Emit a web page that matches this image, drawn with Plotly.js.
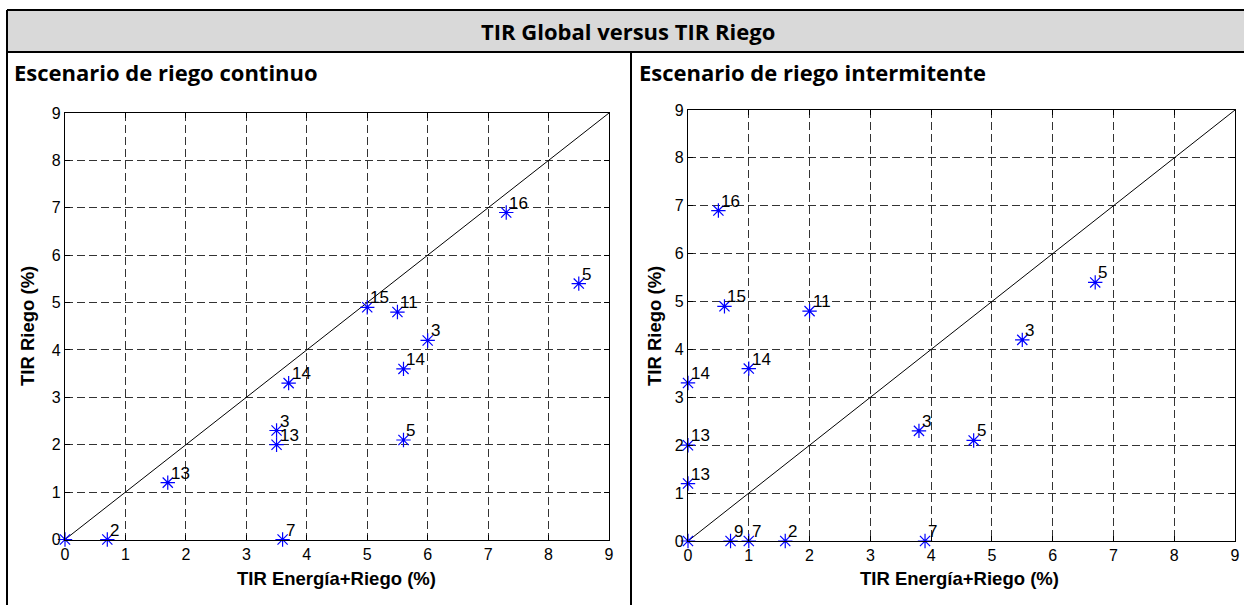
<!DOCTYPE html>
<html><head><meta charset="utf-8">
<script src="https://cdn.plot.ly/plotly-3.0.1.min.js"></script>
<style>html,body{margin:0;padding:0;background:#fff;}#chart{width:1244px;height:605px;}</style>
</head><body><div id="chart"></div>
<script>
// ---- texts ----
const mainTitle = 'TIR Global versus TIR Riego';
const panelTitles = ['Escenario de riego continuo', 'Escenario de riego intermitente'];
const xAxisTitle = 'TIR Energía+Riego (%)';
const yAxisTitle = 'TIR Riego (%)';
const tickVals = [0, 1, 2, 3, 4, 5, 6, 7, 8, 9];
const tickText = ['0', '1', '2', '3', '4', '5', '6', '7', '8', '9'];

// ---- continuous irrigation scenario ----
const contX = [0, 0.7, 1.7, 3.5, 3.5, 3.7, 3.6, 5.0, 5.5, 6.0, 5.6, 5.6, 7.3, 8.5];
const contY = [0, 0, 1.2, 2.3, 2.0, 3.3, 0, 4.9, 4.8, 4.2, 3.6, 2.1, 6.9, 5.4];
const contLabels = ['', '2', '13', '3', '13', '14', '7', '15', '11', '3', '14', '5', '16', '5'];

// ---- intermittent irrigation scenario ----
const interX = [0, 0.7, 1.0, 1.6, 3.9, 0, 0, 0, 1.0, 3.8, 4.7, 5.5, 6.7, 0.5, 0.6, 2.0];
const interY = [0, 0, 0, 0, 0, 1.2, 2.0, 3.3, 3.6, 2.3, 2.1, 4.2, 5.4, 6.9, 4.9, 4.8];
const interLabels = ['', '9', '7', '2', '7', '13', '13', '14', '14', '3', '5', '3', '5', '16', '15', '11'];

// ---- reference line y = x ----
const diagX = [0, 9];
const diagY = [0, 9];

// ---- layout helpers ----
const W = 1244, H = 605;
const px = v => v / W;
const py = v => 1 - v / H;

const tickFont = {family: 'Liberation Sans, Arial, sans-serif', size: 16, color: '#000'};
const axisTitleFont = {family: 'Liberation Sans, Arial, sans-serif', size: 18.5, color: '#000', weight: 'bold'};
const labelFont = {family: 'Liberation Sans, Arial, sans-serif', size: 17, color: '#000'};
const headFont = {family: 'Open Sans, sans-serif', size: 22, color: '#000', weight: 'bold'};

function axis(domain) {
  return {
    domain: domain, range: [0, 9], tickvals: tickVals, ticktext: tickText,
    showgrid: true, gridcolor: '#333333', gridwidth: 1, griddash: '8px,4px',
    zeroline: false, showline: true, linecolor: '#000', linewidth: 1.2,
    mirror: 'ticks', ticks: 'inside', ticklen: 5, tickcolor: '#000',
    tickfont: tickFont, fixedrange: true
  };
}

const traces = [];
function addPanel(xs, ys, xa, ya) {
  traces.push({x: diagX, y: diagY, xaxis: xa, yaxis: ya, mode: 'lines',
    line: {color: '#000', width: 1}, hoverinfo: 'skip', showlegend: false});
  traces.push({x: xs, y: ys, xaxis: xa, yaxis: ya, mode: 'markers', cliponaxis: false,
    marker: {symbol: 'asterisk-open', size: 12, color: '#0000ff', line: {color: '#0000ff', width: 1.2}},
    showlegend: false});
}
addPanel(contX, contY, 'x', 'y');
addPanel(interX, interY, 'x2', 'y2');

const annotations = [];
function addLabels(xs, ys, labels, xr, yr) {
  labels.forEach((t, i) => {
    if (!t) return;
    annotations.push({x: xs[i], y: ys[i], xref: xr, yref: yr, text: t, showarrow: false,
      xanchor: 'left', yanchor: 'bottom', xshift: 2, yshift: -1, borderpad: 0, font: labelFont});
  });
}
addLabels(contX, contY, contLabels, 'x', 'y');
addLabels(interX, interY, interLabels, 'x2', 'y2');

// headers
annotations.push({x: px(628), y: py(31), xref: 'paper', yref: 'paper', text: mainTitle,
  showarrow: false, xanchor: 'center', yanchor: 'middle', font: headFont});
annotations.push({x: px(12), y: py(72), xref: 'paper', yref: 'paper', text: panelTitles[0],
  showarrow: false, xanchor: 'left', yanchor: 'middle', font: headFont});
annotations.push({x: px(637), y: py(72), xref: 'paper', yref: 'paper', text: panelTitles[1],
  showarrow: false, xanchor: 'left', yanchor: 'middle', font: headFont});
// axis titles
annotations.push({x: px(336), y: py(578), xref: 'paper', yref: 'paper', text: xAxisTitle,
  showarrow: false, xanchor: 'center', yanchor: 'middle', font: axisTitleFont});
annotations.push({x: px(960), y: py(578), xref: 'paper', yref: 'paper', text: xAxisTitle,
  showarrow: false, xanchor: 'center', yanchor: 'middle', font: axisTitleFont});
annotations.push({x: px(27), y: py(326), xref: 'paper', yref: 'paper', text: yAxisTitle,
  showarrow: false, xanchor: 'center', yanchor: 'middle', textangle: -90, font: axisTitleFont});
annotations.push({x: px(654), y: py(326), xref: 'paper', yref: 'paper', text: yAxisTitle,
  showarrow: false, xanchor: 'center', yanchor: 'middle', textangle: -90, font: axisTitleFont});

const shapes = [
  {type: 'rect', xref: 'paper', yref: 'paper', x0: px(7), x1: 1, y0: py(52), y1: py(10),
   fillcolor: '#d9d9d9', line: {width: 0}, layer: 'below'},
  {type: 'line', xref: 'paper', yref: 'paper', x0: px(7), x1: 1, y0: py(10), y1: py(10), line: {color: '#000', width: 2}},
  {type: 'line', xref: 'paper', yref: 'paper', x0: px(7), x1: 1, y0: py(52), y1: py(52), line: {color: '#000', width: 2}},
  {type: 'line', xref: 'paper', yref: 'paper', x0: px(7), x1: px(7), y0: py(10), y1: 0, line: {color: '#000', width: 2}},
  {type: 'line', xref: 'paper', yref: 'paper', x0: px(631), x1: px(631), y0: py(52), y1: 0, line: {color: '#000', width: 2}}
];

const layout = {
  width: W, height: H, margin: {l: 0, r: 0, t: 0, b: 0},
  paper_bgcolor: '#fff', plot_bgcolor: '#fff', showlegend: false,
  xaxis: Object.assign(axis([px(65), px(609)]), {anchor: 'y'}),
  yaxis: Object.assign(axis([py(539.5), py(113)]), {anchor: 'x'}),
  xaxis2: Object.assign(axis([px(688), px(1235)]), {anchor: 'y2'}),
  yaxis2: Object.assign(axis([py(541), py(110)]), {anchor: 'x2'}),
  annotations: annotations, shapes: shapes
};

Plotly.newPlot('chart', traces, layout, {displayModeBar: false, staticPlot: true});
</script>
</body></html>
